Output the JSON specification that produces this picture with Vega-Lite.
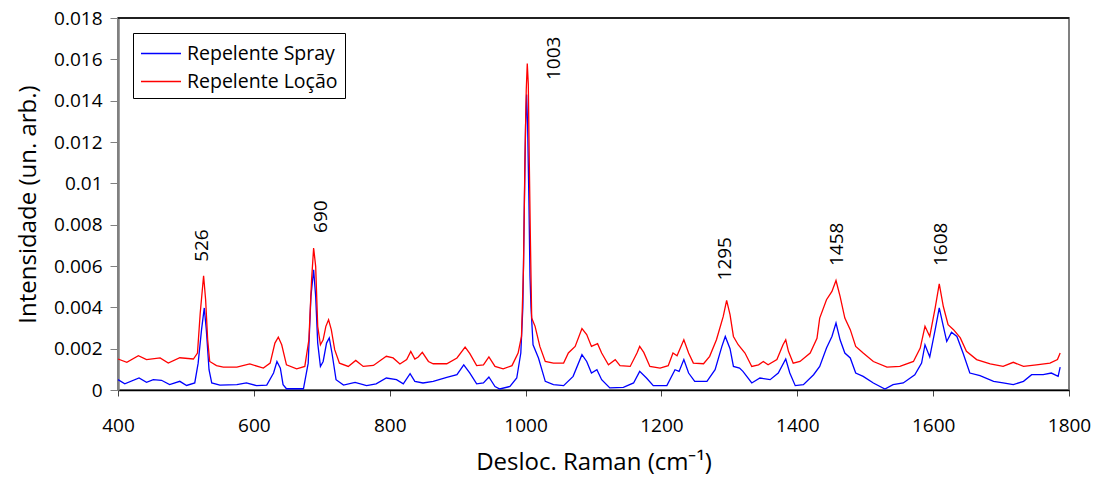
{
  "$schema": "https://vega.github.io/schema/vega-lite/v6.json",
  "width": 951,
  "height": 372,
  "autosize": {"type": "none"},
  "padding": {"left": 118, "top": 18, "right": 24, "bottom": 87},
  "background": "white",
  "config": {
    "font": "Open Sans",
    "view": {"stroke": "#808080", "strokeWidth": 2},
    "axis": {"grid": false, "labelColor": "black", "titleColor": "black", "labelFont": "Open Sans", "titleFont": "Open Sans", "titleFontWeight": "normal"},
    "legend": {
      "orient": "top-left", "offset": 15, "strokeColor": "black", "strokeWidth": 1, "fillColor": "white",
      "padding": 7, "symbolType": "M-1,0L2.2,0", "symbolSize": 625, "symbolStrokeWidth": 1.3,
      "labelFontSize": 19.5, "labelFont": "Open Sans", "labelColor": "black", "rowPadding": 5, "labelOffset": 20
    }
  },
  "datasets": {
    "spectra": [
      {"serie": "Repelente Spray", "w": 400, "v": 0.0005},
      {"serie": "Repelente Spray", "w": 410, "v": 0.0003},
      {"serie": "Repelente Spray", "w": 431, "v": 0.00058},
      {"serie": "Repelente Spray", "w": 442, "v": 0.00037},
      {"serie": "Repelente Spray", "w": 452, "v": 0.0005},
      {"serie": "Repelente Spray", "w": 464, "v": 0.00047},
      {"serie": "Repelente Spray", "w": 476, "v": 0.00026},
      {"serie": "Repelente Spray", "w": 491, "v": 0.00042},
      {"serie": "Repelente Spray", "w": 501, "v": 0.00022},
      {"serie": "Repelente Spray", "w": 513, "v": 0.00034},
      {"serie": "Repelente Spray", "w": 518, "v": 0.0013},
      {"serie": "Repelente Spray", "w": 523, "v": 0.00292},
      {"serie": "Repelente Spray", "w": 527, "v": 0.00397},
      {"serie": "Repelente Spray", "w": 530, "v": 0.00292},
      {"serie": "Repelente Spray", "w": 534, "v": 0.00098},
      {"serie": "Repelente Spray", "w": 538, "v": 0.00034},
      {"serie": "Repelente Spray", "w": 550, "v": 0.00024},
      {"serie": "Repelente Spray", "w": 575, "v": 0.00026},
      {"serie": "Repelente Spray", "w": 589, "v": 0.00034},
      {"serie": "Repelente Spray", "w": 604, "v": 0.00021},
      {"serie": "Repelente Spray", "w": 619, "v": 0.00024},
      {"serie": "Repelente Spray", "w": 629, "v": 0.00082},
      {"serie": "Repelente Spray", "w": 634, "v": 0.00138},
      {"serie": "Repelente Spray", "w": 639, "v": 0.00106},
      {"serie": "Repelente Spray", "w": 643, "v": 0.00026},
      {"serie": "Repelente Spray", "w": 648, "v": 0.00006},
      {"serie": "Repelente Spray", "w": 673, "v": 0.00006},
      {"serie": "Repelente Spray", "w": 680, "v": 0.0013},
      {"serie": "Repelente Spray", "w": 684, "v": 0.00453},
      {"serie": "Repelente Spray", "w": 688, "v": 0.00582},
      {"serie": "Repelente Spray", "w": 691, "v": 0.00453},
      {"serie": "Repelente Spray", "w": 694, "v": 0.00227},
      {"serie": "Repelente Spray", "w": 698, "v": 0.00114},
      {"serie": "Repelente Spray", "w": 702, "v": 0.00138},
      {"serie": "Repelente Spray", "w": 707, "v": 0.00227},
      {"serie": "Repelente Spray", "w": 711, "v": 0.00252},
      {"serie": "Repelente Spray", "w": 715, "v": 0.00179},
      {"serie": "Repelente Spray", "w": 721, "v": 0.0005},
      {"serie": "Repelente Spray", "w": 732, "v": 0.00024},
      {"serie": "Repelente Spray", "w": 749, "v": 0.00037},
      {"serie": "Repelente Spray", "w": 766, "v": 0.00021},
      {"serie": "Repelente Spray", "w": 780, "v": 0.0003},
      {"serie": "Repelente Spray", "w": 795, "v": 0.00058},
      {"serie": "Repelente Spray", "w": 810, "v": 0.0005},
      {"serie": "Repelente Spray", "w": 820, "v": 0.0003},
      {"serie": "Repelente Spray", "w": 830, "v": 0.00079},
      {"serie": "Repelente Spray", "w": 837, "v": 0.00042},
      {"serie": "Repelente Spray", "w": 849, "v": 0.00034},
      {"serie": "Repelente Spray", "w": 864, "v": 0.00042},
      {"serie": "Repelente Spray", "w": 884, "v": 0.00061},
      {"serie": "Repelente Spray", "w": 899, "v": 0.00074},
      {"serie": "Repelente Spray", "w": 909, "v": 0.00122},
      {"serie": "Repelente Spray", "w": 918, "v": 0.00082},
      {"serie": "Repelente Spray", "w": 928, "v": 0.0003},
      {"serie": "Repelente Spray", "w": 938, "v": 0.00034},
      {"serie": "Repelente Spray", "w": 946, "v": 0.00063},
      {"serie": "Repelente Spray", "w": 955, "v": 0.00017},
      {"serie": "Repelente Spray", "w": 962, "v": 0.00005},
      {"serie": "Repelente Spray", "w": 977, "v": 0.00017},
      {"serie": "Repelente Spray", "w": 987, "v": 0.00058},
      {"serie": "Repelente Spray", "w": 993, "v": 0.00179},
      {"serie": "Repelente Spray", "w": 996, "v": 0.004},
      {"serie": "Repelente Spray", "w": 998, "v": 0.0085},
      {"serie": "Repelente Spray", "w": 1000, "v": 0.0128},
      {"serie": "Repelente Spray", "w": 1001.5, "v": 0.0143},
      {"serie": "Repelente Spray", "w": 1003, "v": 0.0128},
      {"serie": "Repelente Spray", "w": 1005, "v": 0.009},
      {"serie": "Repelente Spray", "w": 1006.5, "v": 0.0055},
      {"serie": "Repelente Spray", "w": 1008, "v": 0.004},
      {"serie": "Repelente Spray", "w": 1011, "v": 0.00219},
      {"serie": "Repelente Spray", "w": 1019, "v": 0.00155},
      {"serie": "Repelente Spray", "w": 1029, "v": 0.00042},
      {"serie": "Repelente Spray", "w": 1041, "v": 0.00026},
      {"serie": "Repelente Spray", "w": 1056, "v": 0.00021},
      {"serie": "Repelente Spray", "w": 1070, "v": 0.00066},
      {"serie": "Repelente Spray", "w": 1083, "v": 0.00171},
      {"serie": "Repelente Spray", "w": 1090, "v": 0.00138},
      {"serie": "Repelente Spray", "w": 1097, "v": 0.00082},
      {"serie": "Repelente Spray", "w": 1105, "v": 0.00098},
      {"serie": "Repelente Spray", "w": 1112, "v": 0.0005},
      {"serie": "Repelente Spray", "w": 1124, "v": 0.0001},
      {"serie": "Repelente Spray", "w": 1144, "v": 0.00013},
      {"serie": "Repelente Spray", "w": 1159, "v": 0.00034},
      {"serie": "Repelente Spray", "w": 1168, "v": 0.0009},
      {"serie": "Repelente Spray", "w": 1178, "v": 0.00058},
      {"serie": "Repelente Spray", "w": 1188, "v": 0.00021},
      {"serie": "Repelente Spray", "w": 1208, "v": 0.00021},
      {"serie": "Repelente Spray", "w": 1220, "v": 0.00098},
      {"serie": "Repelente Spray", "w": 1226, "v": 0.0009},
      {"serie": "Repelente Spray", "w": 1233, "v": 0.00147},
      {"serie": "Repelente Spray", "w": 1240, "v": 0.00082},
      {"serie": "Repelente Spray", "w": 1249, "v": 0.00042},
      {"serie": "Repelente Spray", "w": 1267, "v": 0.00042},
      {"serie": "Repelente Spray", "w": 1279, "v": 0.00098},
      {"serie": "Repelente Spray", "w": 1289, "v": 0.00211},
      {"serie": "Repelente Spray", "w": 1294, "v": 0.00259},
      {"serie": "Repelente Spray", "w": 1301, "v": 0.002},
      {"serie": "Repelente Spray", "w": 1306, "v": 0.00114},
      {"serie": "Repelente Spray", "w": 1315, "v": 0.00106},
      {"serie": "Repelente Spray", "w": 1320, "v": 0.0009},
      {"serie": "Repelente Spray", "w": 1333, "v": 0.00034},
      {"serie": "Repelente Spray", "w": 1345, "v": 0.00058},
      {"serie": "Repelente Spray", "w": 1360, "v": 0.0005},
      {"serie": "Repelente Spray", "w": 1372, "v": 0.00082},
      {"serie": "Repelente Spray", "w": 1383, "v": 0.0015},
      {"serie": "Repelente Spray", "w": 1389, "v": 0.00082},
      {"serie": "Repelente Spray", "w": 1397, "v": 0.00021},
      {"serie": "Repelente Spray", "w": 1409, "v": 0.00026},
      {"serie": "Repelente Spray", "w": 1424, "v": 0.00074},
      {"serie": "Repelente Spray", "w": 1433, "v": 0.00114},
      {"serie": "Repelente Spray", "w": 1443, "v": 0.00203},
      {"serie": "Repelente Spray", "w": 1451, "v": 0.00259},
      {"serie": "Repelente Spray", "w": 1457, "v": 0.00324},
      {"serie": "Repelente Spray", "w": 1463, "v": 0.00243},
      {"serie": "Repelente Spray", "w": 1470, "v": 0.00179},
      {"serie": "Repelente Spray", "w": 1478, "v": 0.00155},
      {"serie": "Repelente Spray", "w": 1486, "v": 0.00082},
      {"serie": "Repelente Spray", "w": 1497, "v": 0.00066},
      {"serie": "Repelente Spray", "w": 1512, "v": 0.00034},
      {"serie": "Repelente Spray", "w": 1529, "v": 0.00005},
      {"serie": "Repelente Spray", "w": 1541, "v": 0.00026},
      {"serie": "Repelente Spray", "w": 1556, "v": 0.00034},
      {"serie": "Repelente Spray", "w": 1573, "v": 0.00074},
      {"serie": "Repelente Spray", "w": 1583, "v": 0.0013},
      {"serie": "Repelente Spray", "w": 1588, "v": 0.00219},
      {"serie": "Repelente Spray", "w": 1595, "v": 0.0016},
      {"serie": "Repelente Spray", "w": 1603, "v": 0.00292},
      {"serie": "Repelente Spray", "w": 1609, "v": 0.00397},
      {"serie": "Repelente Spray", "w": 1615, "v": 0.00308},
      {"serie": "Repelente Spray", "w": 1620, "v": 0.00235},
      {"serie": "Repelente Spray", "w": 1627, "v": 0.00279},
      {"serie": "Repelente Spray", "w": 1635, "v": 0.00259},
      {"serie": "Repelente Spray", "w": 1644, "v": 0.00179},
      {"serie": "Repelente Spray", "w": 1654, "v": 0.00082},
      {"serie": "Repelente Spray", "w": 1669, "v": 0.00069},
      {"serie": "Repelente Spray", "w": 1689, "v": 0.00042},
      {"serie": "Repelente Spray", "w": 1703, "v": 0.00034},
      {"serie": "Repelente Spray", "w": 1718, "v": 0.00026},
      {"serie": "Repelente Spray", "w": 1733, "v": 0.00042},
      {"serie": "Repelente Spray", "w": 1745, "v": 0.00074},
      {"serie": "Repelente Spray", "w": 1762, "v": 0.00074},
      {"serie": "Repelente Spray", "w": 1774, "v": 0.00082},
      {"serie": "Repelente Spray", "w": 1784, "v": 0.00066},
      {"serie": "Repelente Spray", "w": 1787, "v": 0.00111},

      {"serie": "Repelente Loção", "w": 400, "v": 0.0015},
      {"serie": "Repelente Loção", "w": 413, "v": 0.00134},
      {"serie": "Repelente Loção", "w": 430, "v": 0.00166},
      {"serie": "Repelente Loção", "w": 442, "v": 0.00147},
      {"serie": "Repelente Loção", "w": 462, "v": 0.00155},
      {"serie": "Repelente Loção", "w": 474, "v": 0.0013},
      {"serie": "Repelente Loção", "w": 491, "v": 0.00156},
      {"serie": "Repelente Loção", "w": 511, "v": 0.0015},
      {"serie": "Repelente Loção", "w": 517, "v": 0.00179},
      {"serie": "Repelente Loção", "w": 521, "v": 0.0037},
      {"serie": "Repelente Loção", "w": 526, "v": 0.00553},
      {"serie": "Repelente Loção", "w": 529, "v": 0.00437},
      {"serie": "Repelente Loção", "w": 532, "v": 0.00243},
      {"serie": "Repelente Loção", "w": 535, "v": 0.00138},
      {"serie": "Repelente Loção", "w": 545, "v": 0.00118},
      {"serie": "Repelente Loção", "w": 555, "v": 0.00111},
      {"serie": "Repelente Loção", "w": 575, "v": 0.00111},
      {"serie": "Repelente Loção", "w": 594, "v": 0.00126},
      {"serie": "Repelente Loção", "w": 614, "v": 0.00106},
      {"serie": "Repelente Loção", "w": 624, "v": 0.0013},
      {"serie": "Repelente Loção", "w": 631, "v": 0.00227},
      {"serie": "Repelente Loção", "w": 636, "v": 0.00256},
      {"serie": "Repelente Loção", "w": 641, "v": 0.00219},
      {"serie": "Repelente Loção", "w": 648, "v": 0.00122},
      {"serie": "Repelente Loção", "w": 663, "v": 0.00102},
      {"serie": "Repelente Loção", "w": 675, "v": 0.00114},
      {"serie": "Repelente Loção", "w": 681, "v": 0.00243},
      {"serie": "Repelente Loção", "w": 685, "v": 0.00534},
      {"serie": "Repelente Loção", "w": 688, "v": 0.00687},
      {"serie": "Repelente Loção", "w": 691, "v": 0.00598},
      {"serie": "Repelente Loção", "w": 694, "v": 0.00308},
      {"serie": "Repelente Loção", "w": 698, "v": 0.00219},
      {"serie": "Repelente Loção", "w": 702, "v": 0.00243},
      {"serie": "Repelente Loção", "w": 706, "v": 0.00308},
      {"serie": "Repelente Loção", "w": 710, "v": 0.0034},
      {"serie": "Repelente Loção", "w": 714, "v": 0.00292},
      {"serie": "Repelente Loção", "w": 719, "v": 0.00195},
      {"serie": "Repelente Loção", "w": 726, "v": 0.0013},
      {"serie": "Repelente Loção", "w": 739, "v": 0.00114},
      {"serie": "Repelente Loção", "w": 750, "v": 0.00143},
      {"serie": "Repelente Loção", "w": 761, "v": 0.00114},
      {"serie": "Repelente Loção", "w": 776, "v": 0.00119},
      {"serie": "Repelente Loção", "w": 795, "v": 0.00163},
      {"serie": "Repelente Loção", "w": 805, "v": 0.00155},
      {"serie": "Repelente Loção", "w": 815, "v": 0.00126},
      {"serie": "Repelente Loção", "w": 825, "v": 0.00147},
      {"serie": "Repelente Loção", "w": 831, "v": 0.00187},
      {"serie": "Repelente Loção", "w": 837, "v": 0.0015},
      {"serie": "Repelente Loção", "w": 842, "v": 0.0016},
      {"serie": "Repelente Loção", "w": 848, "v": 0.00182},
      {"serie": "Repelente Loção", "w": 857, "v": 0.00138},
      {"serie": "Repelente Loção", "w": 864, "v": 0.00127},
      {"serie": "Repelente Loção", "w": 884, "v": 0.00127},
      {"serie": "Repelente Loção", "w": 899, "v": 0.00155},
      {"serie": "Repelente Loção", "w": 911, "v": 0.00208},
      {"serie": "Repelente Loção", "w": 918, "v": 0.00176},
      {"serie": "Repelente Loção", "w": 928, "v": 0.00118},
      {"serie": "Repelente Loção", "w": 938, "v": 0.00122},
      {"serie": "Repelente Loção", "w": 946, "v": 0.0016},
      {"serie": "Repelente Loção", "w": 955, "v": 0.00114},
      {"serie": "Repelente Loção", "w": 967, "v": 0.00102},
      {"serie": "Repelente Loção", "w": 980, "v": 0.00118},
      {"serie": "Repelente Loção", "w": 989, "v": 0.00179},
      {"serie": "Repelente Loção", "w": 994, "v": 0.00259},
      {"serie": "Repelente Loção", "w": 997, "v": 0.006},
      {"serie": "Repelente Loção", "w": 999, "v": 0.011},
      {"serie": "Repelente Loção", "w": 1001, "v": 0.0145},
      {"serie": "Repelente Loção", "w": 1002.5, "v": 0.0158},
      {"serie": "Repelente Loção", "w": 1004, "v": 0.0148},
      {"serie": "Repelente Loção", "w": 1005.5, "v": 0.011},
      {"serie": "Repelente Loção", "w": 1007, "v": 0.0075},
      {"serie": "Repelente Loção", "w": 1009, "v": 0.00348},
      {"serie": "Repelente Loção", "w": 1014, "v": 0.00308},
      {"serie": "Repelente Loção", "w": 1021, "v": 0.00211},
      {"serie": "Repelente Loção", "w": 1029, "v": 0.00138},
      {"serie": "Repelente Loção", "w": 1041, "v": 0.0013},
      {"serie": "Repelente Loção", "w": 1056, "v": 0.0013},
      {"serie": "Repelente Loção", "w": 1063, "v": 0.00179},
      {"serie": "Repelente Loção", "w": 1073, "v": 0.00211},
      {"serie": "Repelente Loção", "w": 1083, "v": 0.00297},
      {"serie": "Repelente Loção", "w": 1090, "v": 0.00268},
      {"serie": "Repelente Loção", "w": 1097, "v": 0.00211},
      {"serie": "Repelente Loção", "w": 1106, "v": 0.00224},
      {"serie": "Repelente Loção", "w": 1112, "v": 0.00179},
      {"serie": "Repelente Loção", "w": 1122, "v": 0.00122},
      {"serie": "Repelente Loção", "w": 1132, "v": 0.00147},
      {"serie": "Repelente Loção", "w": 1139, "v": 0.00118},
      {"serie": "Repelente Loção", "w": 1154, "v": 0.00114},
      {"serie": "Repelente Loção", "w": 1164, "v": 0.00179},
      {"serie": "Repelente Loção", "w": 1168, "v": 0.00211},
      {"serie": "Repelente Loção", "w": 1174, "v": 0.00182},
      {"serie": "Repelente Loção", "w": 1183, "v": 0.00114},
      {"serie": "Repelente Loção", "w": 1198, "v": 0.00106},
      {"serie": "Repelente Loção", "w": 1210, "v": 0.00118},
      {"serie": "Repelente Loção", "w": 1217, "v": 0.00179},
      {"serie": "Repelente Loção", "w": 1223, "v": 0.00166},
      {"serie": "Repelente Loção", "w": 1233, "v": 0.00243},
      {"serie": "Repelente Loção", "w": 1240, "v": 0.00179},
      {"serie": "Repelente Loção", "w": 1247, "v": 0.0013},
      {"serie": "Repelente Loção", "w": 1262, "v": 0.00127},
      {"serie": "Repelente Loção", "w": 1271, "v": 0.00163},
      {"serie": "Repelente Loção", "w": 1281, "v": 0.00243},
      {"serie": "Repelente Loção", "w": 1291, "v": 0.00356},
      {"serie": "Repelente Loção", "w": 1296, "v": 0.00434},
      {"serie": "Repelente Loção", "w": 1301, "v": 0.00365},
      {"serie": "Repelente Loção", "w": 1306, "v": 0.00259},
      {"serie": "Repelente Loção", "w": 1313, "v": 0.00219},
      {"serie": "Repelente Loção", "w": 1323, "v": 0.00179},
      {"serie": "Repelente Loção", "w": 1333, "v": 0.00114},
      {"serie": "Repelente Loção", "w": 1343, "v": 0.00122},
      {"serie": "Repelente Loção", "w": 1350, "v": 0.00138},
      {"serie": "Repelente Loção", "w": 1357, "v": 0.00122},
      {"serie": "Repelente Loção", "w": 1370, "v": 0.00147},
      {"serie": "Repelente Loção", "w": 1379, "v": 0.00219},
      {"serie": "Repelente Loção", "w": 1383, "v": 0.00243},
      {"serie": "Repelente Loção", "w": 1387, "v": 0.00187},
      {"serie": "Repelente Loção", "w": 1394, "v": 0.0013},
      {"serie": "Repelente Loção", "w": 1404, "v": 0.00138},
      {"serie": "Repelente Loção", "w": 1419, "v": 0.00179},
      {"serie": "Repelente Loção", "w": 1429, "v": 0.0025},
      {"serie": "Repelente Loção", "w": 1433, "v": 0.00348},
      {"serie": "Repelente Loção", "w": 1443, "v": 0.00437},
      {"serie": "Repelente Loção", "w": 1451, "v": 0.00477},
      {"serie": "Repelente Loção", "w": 1457, "v": 0.0053},
      {"serie": "Repelente Loção", "w": 1463, "v": 0.00453},
      {"serie": "Repelente Loção", "w": 1470, "v": 0.00348},
      {"serie": "Repelente Loção", "w": 1478, "v": 0.00292},
      {"serie": "Repelente Loção", "w": 1486, "v": 0.00211},
      {"serie": "Repelente Loção", "w": 1497, "v": 0.00179},
      {"serie": "Repelente Loção", "w": 1512, "v": 0.00138},
      {"serie": "Repelente Loção", "w": 1532, "v": 0.00111},
      {"serie": "Repelente Loção", "w": 1551, "v": 0.00114},
      {"serie": "Repelente Loção", "w": 1571, "v": 0.00138},
      {"serie": "Repelente Loção", "w": 1581, "v": 0.00203},
      {"serie": "Repelente Loção", "w": 1588, "v": 0.00308},
      {"serie": "Repelente Loção", "w": 1595, "v": 0.00259},
      {"serie": "Repelente Loção", "w": 1603, "v": 0.00397},
      {"serie": "Repelente Loção", "w": 1609, "v": 0.00514},
      {"serie": "Repelente Loção", "w": 1615, "v": 0.00404},
      {"serie": "Repelente Loção", "w": 1622, "v": 0.00316},
      {"serie": "Repelente Loção", "w": 1630, "v": 0.00292},
      {"serie": "Repelente Loção", "w": 1640, "v": 0.00252},
      {"serie": "Repelente Loção", "w": 1649, "v": 0.00187},
      {"serie": "Repelente Loção", "w": 1664, "v": 0.00147},
      {"serie": "Repelente Loção", "w": 1684, "v": 0.00126},
      {"serie": "Repelente Loção", "w": 1703, "v": 0.00114},
      {"serie": "Repelente Loção", "w": 1718, "v": 0.00134},
      {"serie": "Repelente Loção", "w": 1733, "v": 0.00114},
      {"serie": "Repelente Loção", "w": 1752, "v": 0.00122},
      {"serie": "Repelente Loção", "w": 1772, "v": 0.0013},
      {"serie": "Repelente Loção", "w": 1783, "v": 0.00147},
      {"serie": "Repelente Loção", "w": 1787, "v": 0.00179}
    ],
    "peaks": [
      {"label": "526", "w": 524, "v": 0.0062},
      {"label": "690", "w": 699, "v": 0.0076},
      {"label": "1003", "w": 1042, "v": 0.015},
      {"label": "1295", "w": 1294, "v": 0.0053},
      {"label": "1458", "w": 1459, "v": 0.006},
      {"label": "1608", "w": 1611, "v": 0.006}
    ]
  },
  "layer": [
    {
      "data": {"name": "spectra"},
      "transform": [{"filter": "datum.serie === 'Repelente Spray'"}],
      "mark": {"type": "line", "strokeWidth": 1.3},
      "encoding": {
        "x": {"field": "w", "type": "quantitative", "scale": {"domain": [400, 1800], "nice": false},
          "axis": {"values": [400, 600, 800, 1000, 1200, 1400, 1600, 1800], "format": "d", "title": "Desloc. Raman (cm⁻¹)", "titleFontSize": 24, "labelFontSize": 19, "tickSize": 6, "tickColor": "#444444", "domainColor": "black", "domainWidth": 1.5, "labelPadding": 20, "titlePadding": 15, "labelFlush": false}},
        "y": {"field": "v", "type": "quantitative", "scale": {"domain": [0, 0.018], "nice": false},
          "axis": {"values": [0, 0.002, 0.004, 0.006, 0.008, 0.01, 0.012, 0.014, 0.016, 0.018], "format": "~f", "title": "Intensidade (un. arb.)", "titleFontSize": 24, "labelFontSize": 19, "tickSize": 8, "tickColor": "#808080", "domainColor": "#808080", "domainWidth": 2.5, "labelPadding": 8, "titlePadding": 13, "labelFlush": false}},
        "color": {"field": "serie", "type": "nominal", "title": null,
          "scale": {"domain": ["Repelente Spray", "Repelente Loção"], "range": ["#0000FF", "#FF0000"]}}
      }
    },
    {
      "data": {"name": "spectra"},
      "transform": [{"filter": "datum.serie === 'Repelente Loção'"}],
      "mark": {"type": "line", "strokeWidth": 1.3},
      "encoding": {
        "x": {"field": "w", "type": "quantitative"},
        "y": {"field": "v", "type": "quantitative"},
        "color": {"field": "serie", "type": "nominal"}
      }
    },
    {
      "data": {"values": [{"v": 0.018}]},
      "mark": {"type": "rule", "color": "black", "strokeWidth": 1.5},
      "encoding": {"y": {"field": "v", "type": "quantitative"}}
    },
    {
      "data": {"name": "peaks"},
      "mark": {"type": "text", "angle": 270, "align": "left", "baseline": "middle", "fontSize": 19, "font": "Open Sans", "color": "black"},
      "encoding": {
        "x": {"field": "w", "type": "quantitative"},
        "y": {"field": "v", "type": "quantitative"},
        "text": {"field": "label", "type": "nominal"}
      }
    }
  ]
}
